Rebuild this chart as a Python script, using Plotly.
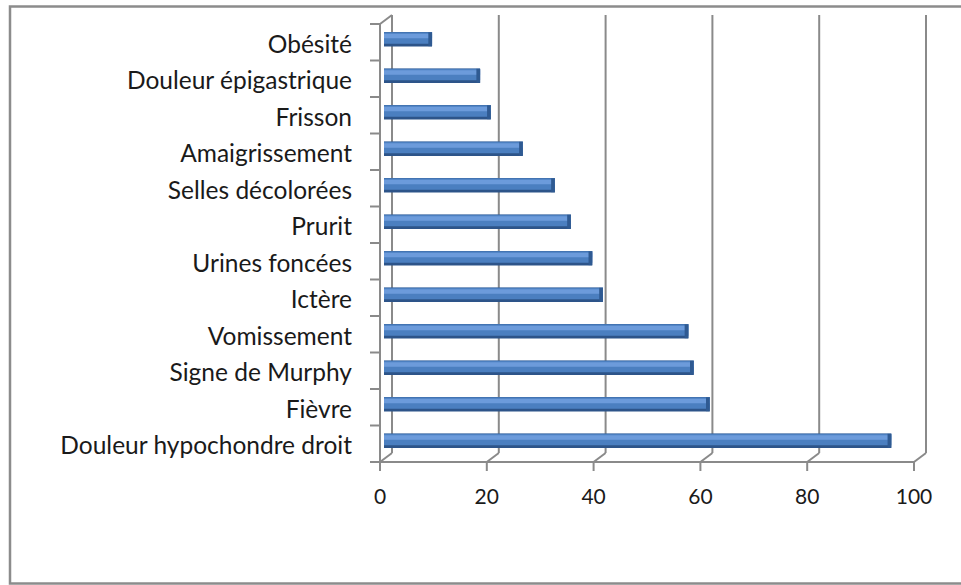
import plotly.graph_objects as go

categories = ["Obésité", "Douleur épigastrique", "Frisson", "Amaigrissement",
              "Selles décolorées", "Prurit", "Urines foncées", "Ictère",
              "Vomissement", "Signe de Murphy", "Fièvre", "Douleur hypochondre droit"]
values = [9, 18, 20, 26, 32, 35, 39, 41, 57, 58, 61, 95]
x_ticks = [0, 20, 40, 60, 80, 100]

W, H = 961, 585
L, R, T, B = 384, 43, 21, 126
PW = W - L - R
PH = H - T - B
XMIN, XMAX = 0, 100
FRONT = (-4, -3)   # pixel offset of front plane vs bar plane
BACK = (8, 6)      # pixel offset of back plane vs bar plane
GRID = "#8a8a8a"
FONT = "Lato"

fig = go.Figure()
bar_layers = [
    (0.40, -0.20, "#2d5489"),
    (0.31, -0.19, "#4b7fc0"),
    (0.12, -0.15, "#6c9bdb"),
]
for w, off, col in bar_layers:
    fig.add_trace(go.Bar(
        y=categories, x=values, orientation="h",
        width=w, offset=off, marker=dict(color=col, line=dict(width=0)),
        hoverinfo="skip", showlegend=False))
# darker end cap of each cylinder
cap_len = 0.7
fig.add_trace(go.Bar(
    y=categories, x=[cap_len] * len(values), base=[v - cap_len for v in values],
    orientation="h", width=0.38, offset=-0.19,
    marker=dict(color="#2f5a92", line=dict(width=0)),
    hoverinfo="skip", showlegend=False))


def xp(v):
    return (v - XMIN) / (XMAX - XMIN)


shapes = []
def seg(v, dx0, dy0, dx1, dy1):
    shapes.append(dict(type="line", xref="paper", yref="paper",
                       xsizemode="pixel", ysizemode="pixel",
                       xanchor=xp(v), yanchor=0,
                       x0=dx0, y0=dy0, x1=dx1, y1=dy1,
                       line=dict(color=GRID, width=2), layer="below"))

for v in x_ticks:
    seg(v, BACK[0], BACK[1], BACK[0], PH + BACK[1])          # back gridline
    seg(v, BACK[0], BACK[1], FRONT[0], FRONT[1])             # floor diagonal
    seg(v, FRONT[0], FRONT[1], FRONT[0], FRONT[1] - 9)       # front tick
seg(XMIN, FRONT[0], FRONT[1], FRONT[0] + PW, FRONT[1])       # front bottom axis
seg(XMIN, FRONT[0], FRONT[1], FRONT[0], PH + FRONT[1])       # front left axis
seg(XMIN, FRONT[0], PH + FRONT[1], BACK[0], PH + BACK[1])    # top-left diagonal
n = len(categories)
for k in range(n + 1):
    yy = k * PH / n + FRONT[1]
    seg(XMIN, FRONT[0] - 10, yy, FRONT[0], yy)

# outer frame
shapes.append(dict(type="rect", xref="paper", yref="paper",
                   x0=(10 - L) / PW, x1=(990 - L) / PW,
                   y0=(H - B - 583.5) / PH, y1=(H - B - 6.5) / PH,
                   line=dict(color="#8c8c8c", width=2.5), layer="below"))

fig.update_layout(
    width=W, height=H,
    margin=dict(l=L, r=R, t=T, b=B, pad=0),
    paper_bgcolor="white", plot_bgcolor="rgba(0,0,0,0)",
    barmode="overlay",
    shapes=shapes,
    font=dict(family=FONT, color="#1a1a1a"),
    xaxis=dict(range=[XMIN, XMAX], tickvals=x_ticks, showgrid=False, zeroline=False,
               showline=False, ticks="", ticklabelstandoff=23, ticklabelshift=-4,
               tickfont=dict(size=21, family=FONT, color="#1a1a1a")),
    yaxis=dict(range=[n - 0.5, -0.5], showgrid=False, zeroline=False,
               showline=False, ticks="", ticklabelstandoff=31, ticklabelshift=-5,
               tickfont=dict(size=24.5, family=FONT, color="#1a1a1a")),
)
fig.write_html("out.html")
